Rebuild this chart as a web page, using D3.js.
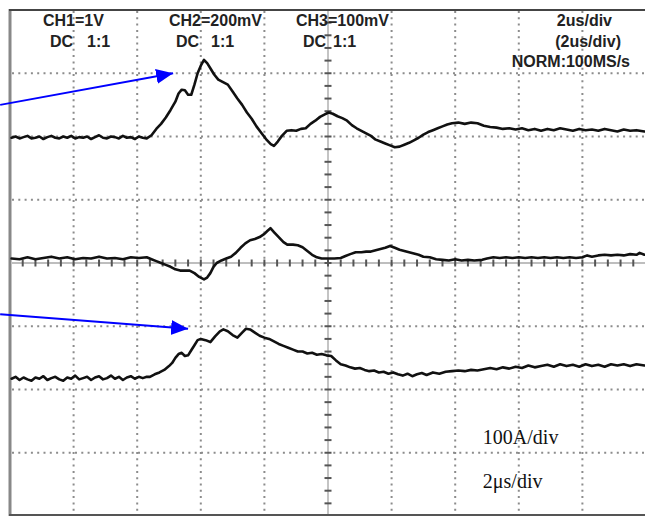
<!DOCTYPE html>
<html><head><meta charset="utf-8">
<script src="https://cdn.jsdelivr.net/npm/d3@7"></script>
<style>html,body{margin:0;padding:0;background:#fff;} svg{display:block}</style>
</head><body><svg id="chart" width="645" height="516"></svg>
<script>
// ---- data (time in µs, value in screen divisions) ----
const timeDomain = [0, 20];      // 10 div × 2 µs/div
const divDomain = [-4, 4];       // 8 vertical divisions
const headerRow1 = ["CH1=1V", "CH2=200mV", "CH3=100mV", "2us/div"];
const headerRow2 = ["DC", "1:1", "DC", "1:1", "DC", "1:1", "(2us/div)"];
const headerRow3 = ["NORM:100MS/s"];
const noteLabels = ["100A/div", "2\u03bcs/div"];
const notePos = [[14.87, -2.86], [14.87, -3.56]];
const arrowPairs = [[[-0.31, 2.50], [5.13, 3.00]], [[-0.31, -0.81], [5.60, -1.04]]];

const ch1 = [[0.05,1.98],[0.175,2.00],[0.3,1.97],[0.425,1.99],[0.55,2.01],[0.675,1.97],[0.8,1.98],[0.925,2.00],[1.05,1.96],[1.175,1.99],[1.3,2.01],[1.425,1.98],[1.55,1.97],[1.675,2.00],[1.8,1.98],[1.925,2.01],[2.05,1.97],[2.175,1.99],[2.3,1.98],[2.425,2.00],[2.55,1.96],[2.675,1.99],[2.8,2.02],[2.925,1.98],[3.05,1.97],[3.175,2.00],[3.3,1.99],[3.425,1.97],[3.55,2.01],[3.675,1.98],[3.8,1.99],[3.925,1.96],[4.05,2.00],[4.175,1.98],[4.3,1.97],
[4.45,2.02],[4.6,2.12],[4.75,2.20],[4.9,2.30],[5.05,2.42],[5.2,2.55],[5.3,2.68],[5.4,2.74],[5.5,2.73],[5.6,2.66],[5.7,2.66],[5.8,2.82],[5.9,3.00],[6.0,3.12],[6.1,3.21],[6.2,3.16],[6.3,3.08],[6.42,2.98],[6.55,2.90],[6.7,2.86],[6.85,2.82],[7.0,2.71],[7.15,2.60],[7.3,2.50],[7.45,2.38],[7.6,2.28],[7.75,2.16],[7.9,2.06],[8.05,1.96],[8.2,1.88],[8.3,1.85],[8.42,1.92],[8.55,2.01],[8.7,2.09],[8.85,2.10],[9.0,2.09],[9.15,2.12],[9.3,2.13],[9.45,2.20],[9.6,2.25],[9.75,2.31],[9.9,2.35],[10.02,2.38],[10.15,2.36],[10.3,2.32],[10.45,2.29],[10.6,2.25],[10.75,2.18],[10.9,2.13],[11.05,2.09],[11.2,2.05],[11.35,2.01],[11.5,1.95],[11.65,1.92],[11.8,1.89],[11.95,1.86],[12.1,1.83],[12.25,1.84],[12.4,1.87],[12.55,1.90],[12.7,1.94],[12.85,1.98],[13.0,2.03],[13.15,2.07],[13.3,2.10],[13.45,2.13],[13.6,2.16],[13.75,2.19],[13.9,2.21],[14.1,2.22],[14.3,2.20],[14.5,2.22],[14.7,2.21],[14.9,2.17],[15.1,2.15],[15.3,2.14],[15.5,2.12],[15.7,2.13],[15.9,2.11],[16.1,2.13],[16.3,2.10],[16.5,2.12],[16.7,2.09],[16.9,2.12],[17.1,2.10],[17.3,2.13],[17.5,2.11],[17.7,2.09],[17.9,2.12],[18.1,2.10],[18.3,2.11],[18.5,2.09],[18.7,2.12],[18.9,2.10],[19.1,2.08],[19.3,2.11],[19.5,2.09],[19.7,2.10],[19.95,2.08]];

const ch2 = [[0.05,0.07],[0.3,0.06],[0.55,0.09],[0.8,0.06],[1.05,0.08],[1.3,0.10],[1.55,0.07],[1.8,0.09],[2.05,0.06],[2.3,0.08],[2.55,0.07],[2.8,0.10],[3.05,0.07],[3.3,0.08],[3.55,0.06],[3.8,0.09],[4.05,0.08],[4.3,0.09],[4.45,0.06],[4.6,0.03],[4.75,0.00],[4.9,-0.03],[5.05,-0.06],[5.2,-0.10],[5.35,-0.12],[5.5,-0.12],[5.65,-0.12],[5.8,-0.16],[5.95,-0.22],[6.1,-0.26],[6.2,-0.23],[6.3,-0.16],[6.4,-0.06],[6.5,0.00],[6.65,0.04],[6.8,0.07],[6.95,0.10],[7.1,0.16],[7.25,0.24],[7.4,0.31],[7.55,0.36],[7.7,0.38],[7.85,0.41],[8.0,0.46],[8.1,0.51],[8.19,0.55],[8.3,0.49],[8.45,0.41],[8.6,0.33],[8.72,0.29],[8.9,0.29],[9.05,0.28],[9.2,0.25],[9.35,0.19],[9.5,0.13],[9.65,0.09],[9.8,0.07],[10.0,0.07],[10.2,0.07],[10.4,0.08],[10.55,0.11],[10.7,0.14],[10.87,0.17],[11.05,0.17],[11.2,0.18],[11.35,0.18],[11.5,0.20],[11.65,0.22],[11.8,0.24],[11.95,0.27],[12.1,0.24],[12.25,0.21],[12.4,0.19],[12.55,0.17],[12.7,0.15],[12.85,0.13],[13.0,0.10],[13.2,0.09],[13.4,0.06],[13.6,0.05],[13.8,0.04],[14.0,0.06],[14.2,0.04],[14.4,0.05],[14.6,0.04],[14.85,0.05],[15.0,0.07],[15.2,0.09],[15.4,0.08],[15.6,0.09],[15.8,0.08],[16.0,0.09],[16.2,0.08],[16.4,0.09],[16.6,0.08],[16.8,0.09],[17.0,0.08],[17.2,0.09],[17.4,0.08],[17.6,0.09],[17.8,0.08],[18.0,0.09],[18.15,0.12],[18.3,0.10],[18.5,0.12],[18.7,0.13],[18.9,0.12],[19.1,0.13],[19.3,0.12],[19.5,0.14],[19.7,0.13],[19.8,0.16],[19.95,0.13]];

const ch3 = [[0.05,-1.83],[0.175,-1.80],[0.3,-1.85],[0.425,-1.81],[0.55,-1.84],[0.675,-1.86],[0.8,-1.81],[0.925,-1.83],[1.05,-1.79],[1.175,-1.85],[1.3,-1.82],[1.425,-1.80],[1.55,-1.84],[1.675,-1.86],[1.8,-1.81],[1.925,-1.83],[2.05,-1.78],[2.175,-1.84],[2.3,-1.82],[2.425,-1.80],[2.55,-1.85],[2.675,-1.81],[2.8,-1.79],[2.925,-1.84],[3.05,-1.82],[3.175,-1.78],[3.3,-1.83],[3.425,-1.80],[3.55,-1.85],[3.675,-1.81],[3.8,-1.79],[3.925,-1.83],[4.05,-1.80],[4.175,-1.82],[4.3,-1.80],
[4.4,-1.80],[4.55,-1.76],[4.7,-1.73],[4.85,-1.69],[5.0,-1.63],[5.1,-1.58],[5.2,-1.50],[5.3,-1.44],[5.4,-1.42],[5.5,-1.47],[5.6,-1.46],[5.7,-1.38],[5.8,-1.30],[5.9,-1.22],[6.0,-1.20],[6.15,-1.22],[6.3,-1.25],[6.45,-1.16],[6.6,-1.08],[6.71,-1.05],[6.85,-1.08],[7.0,-1.14],[7.15,-1.18],[7.3,-1.10],[7.42,-1.04],[7.55,-1.05],[7.7,-1.10],[7.85,-1.15],[8.0,-1.18],[8.15,-1.20],[8.3,-1.24],[8.45,-1.28],[8.6,-1.31],[8.75,-1.34],[8.9,-1.37],[9.05,-1.40],[9.2,-1.40],[9.35,-1.43],[9.5,-1.42],[9.65,-1.45],[9.8,-1.44],[9.95,-1.46],[10.1,-1.47],[10.25,-1.54],[10.4,-1.60],[10.55,-1.62],[10.7,-1.65],[10.85,-1.67],[11.0,-1.66],[11.15,-1.69],[11.3,-1.71],[11.45,-1.70],[11.6,-1.73],[11.75,-1.72],[11.9,-1.75],[12.05,-1.73],[12.2,-1.76],[12.35,-1.78],[12.5,-1.75],[12.65,-1.79],[12.8,-1.76],[12.95,-1.74],[13.1,-1.77],[13.3,-1.73],[13.5,-1.75],[13.7,-1.72],[13.9,-1.71],[14.1,-1.70],[14.3,-1.71],[14.5,-1.69],[14.7,-1.70],[14.9,-1.68],[15.1,-1.66],[15.3,-1.68],[15.5,-1.65],[15.7,-1.67],[15.9,-1.64],[16.1,-1.66],[16.3,-1.62],[16.5,-1.65],[16.7,-1.63],[16.9,-1.61],[17.1,-1.64],[17.3,-1.60],[17.5,-1.63],[17.7,-1.61],[17.9,-1.64],[18.1,-1.60],[18.3,-1.63],[18.5,-1.61],[18.7,-1.64],[18.9,-1.60],[19.1,-1.62],[19.3,-1.60],[19.5,-1.63],[19.7,-1.60],[19.95,-1.62]];

// ---- drawing ----
const svg = d3.select("#chart");
const x = d3.scaleLinear().domain(timeDomain).range([10, 646]);
const y = d3.scaleLinear().domain(divDomain).range([516, 10]);

svg.append("rect").attr("width", 645).attr("height", 516).attr("fill", "#fff");

const grid = svg.append("g");
const xt = d3.range(2, 20, 2).filter(t => t !== 10);
const yt = d3.range(-3, 4, 1).filter(v => v !== 0);
grid.selectAll(".vg").data(xt).join("line")
  .attr("x1", d => x(d)).attr("x2", d => x(d)).attr("y1", 11).attr("y2", 515)
  .attr("stroke", "#8c8c8c").attr("stroke-width", 2).attr("stroke-dasharray", "2 4.3");
grid.selectAll(".hg").data(yt).join("line")
  .attr("y1", d => y(d)).attr("y2", d => y(d)).attr("x1", 12).attr("x2", 645)
  .attr("stroke", "#8c8c8c").attr("stroke-width", 2).attr("stroke-dasharray", "2 4.3");

// center axes
grid.append("line").attr("x1", x(10)).attr("x2", x(10)).attr("y1", 11).attr("y2", 515)
  .attr("stroke", "#c4c4c4").attr("stroke-width", 2);
grid.append("line").attr("y1", y(0)).attr("y2", y(0)).attr("x1", 12).attr("x2", 645)
  .attr("stroke", "#a8a8a8").attr("stroke-width", 1.5);
grid.selectAll(".xtk").data(d3.range(0.4, 20, 0.4)).join("line")
  .attr("x1", d => x(d)).attr("x2", d => x(d)).attr("y1", y(0) - 3.5).attr("y2", y(0) + 3.5)
  .attr("stroke", "#555").attr("stroke-width", 2);
grid.selectAll(".ytk").data(d3.range(-3.8, 4, 0.2)).join("line")
  .attr("y1", d => y(d)).attr("y2", d => y(d)).attr("x1", x(10) - 3.5).attr("x2", x(10) + 3.5)
  .attr("stroke", "#555").attr("stroke-width", 2);

// frame
svg.append("line").attr("x1", 10).attr("x2", 10).attr("y1", 9).attr("y2", 516)
  .attr("stroke", "#888").attr("stroke-width", 3);
svg.append("line").attr("x1", 9).attr("x2", 645).attr("y1", 10).attr("y2", 10)
  .attr("stroke", "#444").attr("stroke-width", 2);
svg.append("line").attr("x1", 9).attr("x2", 645).attr("y1", 515).attr("y2", 515)
  .attr("stroke", "#555").attr("stroke-width", 2);

// header text
const hf = { "font-family": "Liberation Sans, Arial, sans-serif", "font-weight": "bold", "font-size": "16px", "fill": "#222" };
function htext(s, px, py, anchor) {
  const t = svg.append("text").attr("x", px).attr("y", py).attr("text-anchor", anchor || "start").text(s);
  Object.entries(hf).forEach(([k, v]) => t.attr(k, v));
}
htext(headerRow1[0], 43, 26);
htext(headerRow1[1], 169, 26);
htext(headerRow1[2], 296, 26);
htext(headerRow1[3], 612, 26, "end");
htext(headerRow2[0], 50, 46.5);
htext(headerRow2[1], 87, 46.5);
htext(headerRow2[2], 176, 46.5);
htext(headerRow2[3], 211, 46.5);
htext(headerRow2[4], 303, 46.5);
htext(headerRow2[5], 333, 46.5);
htext(headerRow2[6], 621, 46.5, "end");
htext(headerRow3[0], 630, 67, "end");

// traces
const line = d3.line().x(d => x(d[0])).y(d => y(d[1]));
[ch1, ch2, ch3].forEach(data => {
  svg.append("path").datum(data).attr("d", line)
    .attr("fill", "none").attr("stroke", "#111").attr("stroke-width", 2.6)
    .attr("stroke-linejoin", "round").attr("stroke-linecap", "round");
});

// arrows
svg.append("defs").append("marker").attr("id", "ah")
  .attr("markerUnits", "userSpaceOnUse").attr("markerWidth", 20).attr("markerHeight", 18)
  .attr("refX", 17).attr("refY", 7.5).attr("orient", "auto")
  .append("path").attr("d", "M0,0 L17,7.5 L0,15 Z").attr("fill", "#0000ff");
arrowPairs.forEach(([a, b]) => {
  svg.append("line").attr("x1", x(a[0])).attr("y1", y(a[1])).attr("x2", x(b[0])).attr("y2", y(b[1]))
    .attr("stroke", "#0000ff").attr("stroke-width", 2).attr("marker-end", "url(#ah)");
});

// notes
noteLabels.forEach((s, i) => {
  svg.append("text").attr("x", x(notePos[i][0])).attr("y", y(notePos[i][1]))
    .attr("font-family", "Liberation Serif, Times New Roman, serif").attr("font-size", "20px")
    .attr("fill", "#111").text(s);
});
</script></body></html>
